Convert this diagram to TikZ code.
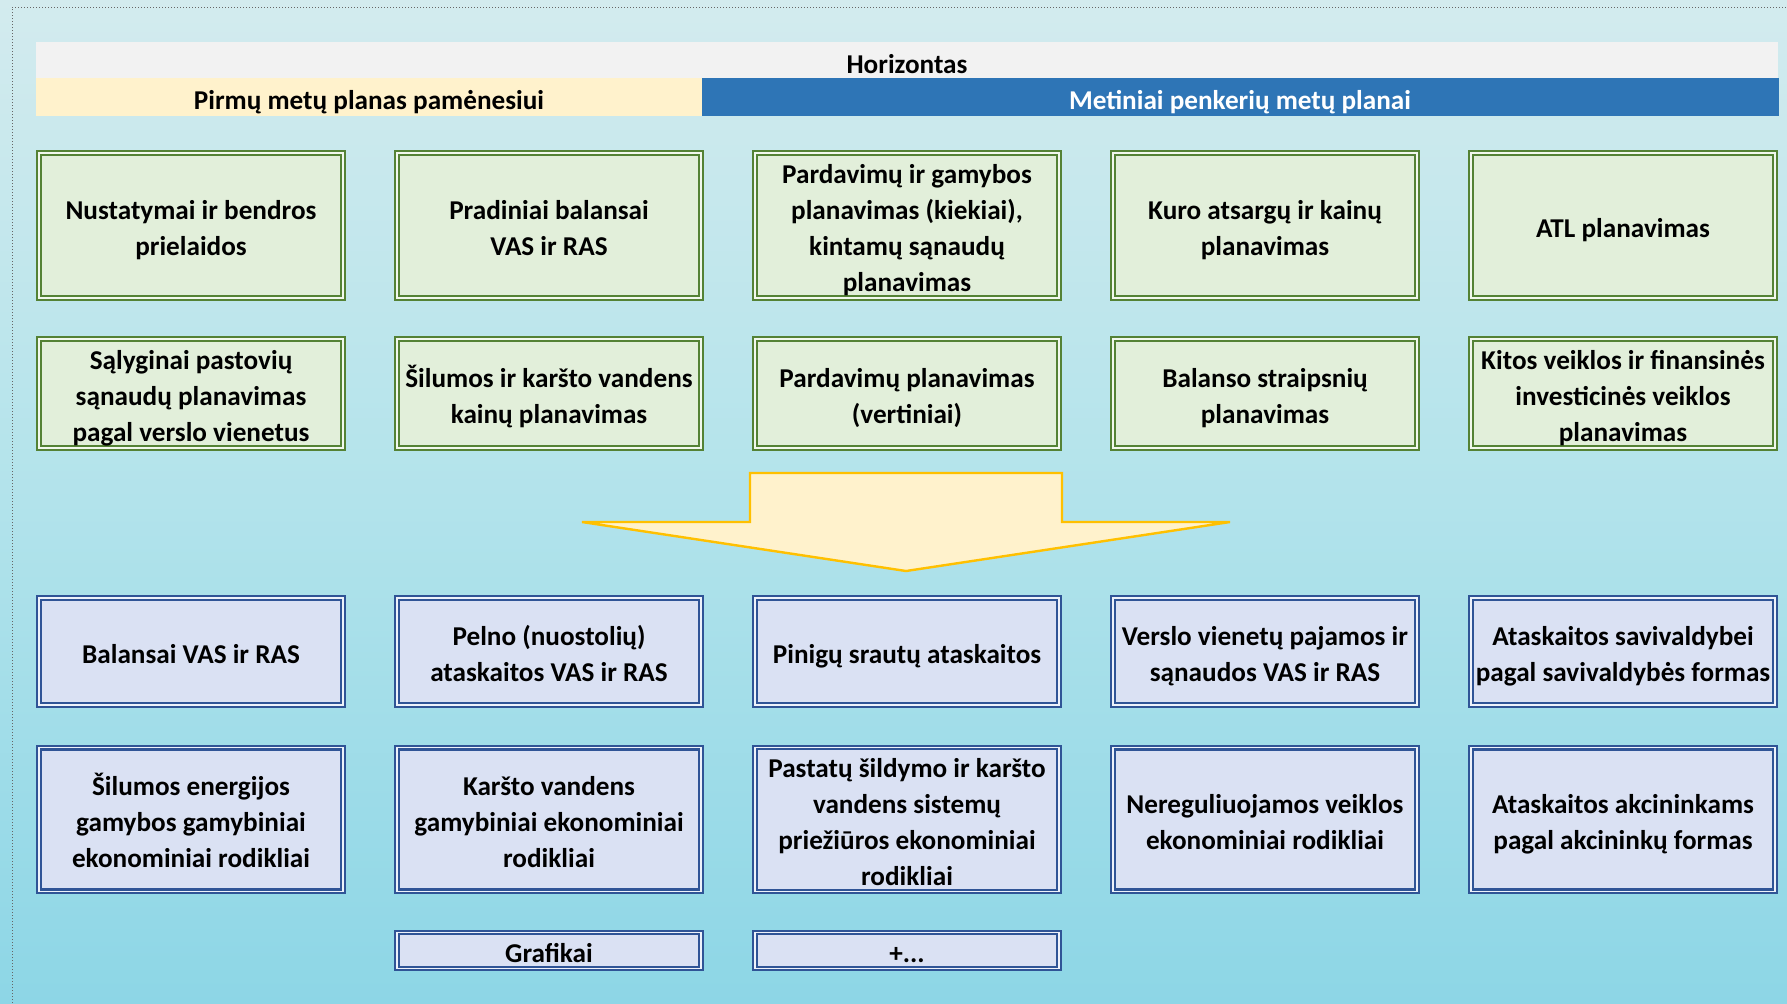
\documentclass[tikz,border=0pt]{standalone}
\usepackage{fontspec}
\setmainfont{Carlito}
\definecolor{bgtop}{HTML}{D3EBEE}
\definecolor{bgmid}{HTML}{B2E3EB}
\definecolor{bgbot}{HTML}{8DD6E6}
\definecolor{gfill}{HTML}{E2EFDA}
\definecolor{gline}{HTML}{548235}
\definecolor{bfill}{HTML}{DAE1F3}
\definecolor{bline}{HTML}{2F5496}
\definecolor{hwhite}{HTML}{F2F2F2}
\definecolor{hyellow}{HTML}{FFF2CC}
\definecolor{hblue}{HTML}{2E75B6}
\definecolor{agold}{HTML}{FFC000}
\newcommand\boxfont{\fontsize{13.6}{18}\selectfont\bfseries}
\newcommand\bxs{\rule[-3pt]{0pt}{18pt}}
\begin{document}
\begin{tikzpicture}[x=0.5pt,y=-0.5pt,
  box/.style={draw, double, line width=1.1pt, double distance=0.65pt,
    inner sep=0pt, minimum width=152pt, align=center, font=\boxfont},
  gbox/.style={box, draw=gline, double=white!55!gfill, fill=gfill},
  bbox/.style={box, draw=bline, double=white!55!bfill, fill=bfill},
  rowA/.style={minimum height=72.6pt},
  rowB/.style={minimum height=54.6pt},
  rowC/.style={minimum height=53.6pt},
  rowD/.style={minimum height=71.7pt},
  rowE/.style={minimum height=17.6pt},
  hdr/.style={inner sep=0pt, font=\boxfont}]
\useasboundingbox (0,0) rectangle (1787,1003);
\shade[top color=bgtop, bottom color=bgbot, middle color=bgmid] (0,0) rectangle (1787,1003);
\draw[gray!80!black, densely dotted, line width=0.5pt] (12,1003) -- (12,7) -- (1787,7);
% header bands
\fill[hwhite] (36,42) rectangle (1778,78);
\fill[hyellow] (36,78) rectangle (702,116);
\fill[hblue] (702,78) rectangle (1779,116);
\node[hdr] (hor) at (907,61) {\bxs Horizontas};
\node[hdr] (pirm) at (369,97.5) {\bxs Pirmų metų planas pamėnesiui};
\node[hdr, text=white] (met) at (1240,97.5) {\bxs Metiniai penkerių metų planai};
% row 1
\node[gbox,rowA] (a1) at (191,225.5) {\bxs Nustatymai ir bendros\\prielaidos\bxs};
\node[gbox,rowA] (a2) at (549,225.5) {\bxs Pradiniai balansai\\VAS ir RAS\bxs};
\node[gbox,rowA] (a3) at (907,225.5) {\bxs Pardavimų ir gamybos\\planavimas (kiekiai),\\kintamų sąnaudų\\planavimas\bxs};
\node[gbox,rowA] (a4) at (1265,225.5) {\bxs Kuro atsargų ir kainų\\planavimas\bxs};
\node[gbox,rowA] (a5) at (1623,225.5) {\bxs ATL planavimas\bxs};
% row 2
\node[gbox,rowB] (b1) at (191,393.5) {\bxs Sąlyginai pastovių\\sąnaudų planavimas\\pagal verslo vienetus\bxs};
\node[gbox,rowB] (b2) at (549,393.5) {\bxs Šilumos ir karšto vandens\\kainų planavimas\bxs};
\node[gbox,rowB] (b3) at (907,393.5) {\bxs Pardavimų planavimas\\(vertiniai)\bxs};
\node[gbox,rowB] (b4) at (1265,393.5) {\bxs Balanso straipsnių\\planavimas\bxs};
\node[gbox,rowB] (b5) at (1623,393.5) {\bxs Kitos veiklos ir finansinės\\investicinės veiklos\\planavimas\bxs};
% arrow
\draw[fill=hyellow, draw=agold, line width=1.2pt, line join=miter]
  (750,473) -- (1062,473) -- (1062,522) -- (1230,522) -- (906,571) -- (582,522) -- (750,522) -- cycle;
% row 3
\node[bbox,rowC] (c1) at (191,651.5) {\bxs Balansai VAS ir RAS\bxs};
\node[bbox,rowC] (c2) at (549,651.5) {\bxs Pelno (nuostolių)\\ataskaitos VAS ir RAS\bxs};
\node[bbox,rowC] (c3) at (907,651.5) {\bxs Pinigų srautų ataskaitos\bxs};
\node[bbox,rowC] (c4) at (1265,651.5) {\bxs Verslo vienetų pajamos ir\\sąnaudos VAS ir RAS\bxs};
\node[bbox,rowC] (c5) at (1623,651.5) {\bxs Ataskaitos savivaldybei\\pagal savivaldybės formas\bxs};
% row 4
\node[bbox,rowD] (d1) at (191,819.5) {\bxs Šilumos energijos\\gamybos gamybiniai\\ekonominiai rodikliai\bxs};
\node[bbox,rowD] (d2) at (549,819.5) {\bxs Karšto vandens\\gamybiniai ekonominiai\\rodikliai\bxs};
\node[bbox,rowD] (d3) at (907,819.5) {\bxs Pastatų šildymo ir karšto\\vandens sistemų\\priežiūros ekonominiai\\rodikliai\bxs};
\node[bbox,rowD] (d4) at (1265,819.5) {\bxs Nereguliuojamos veiklos\\ekonominiai rodikliai\bxs};
\node[bbox,rowD] (d5) at (1623,819.5) {\bxs Ataskaitos akcininkams\\pagal akcininkų formas\bxs};
% row 5
\node[bbox,rowE] (e2) at (549,950.5) {\bxs Grafikai\bxs};
\node[bbox,rowE] (e3) at (907,950.5) {\bxs +...\bxs};
\end{tikzpicture}
\end{document}
